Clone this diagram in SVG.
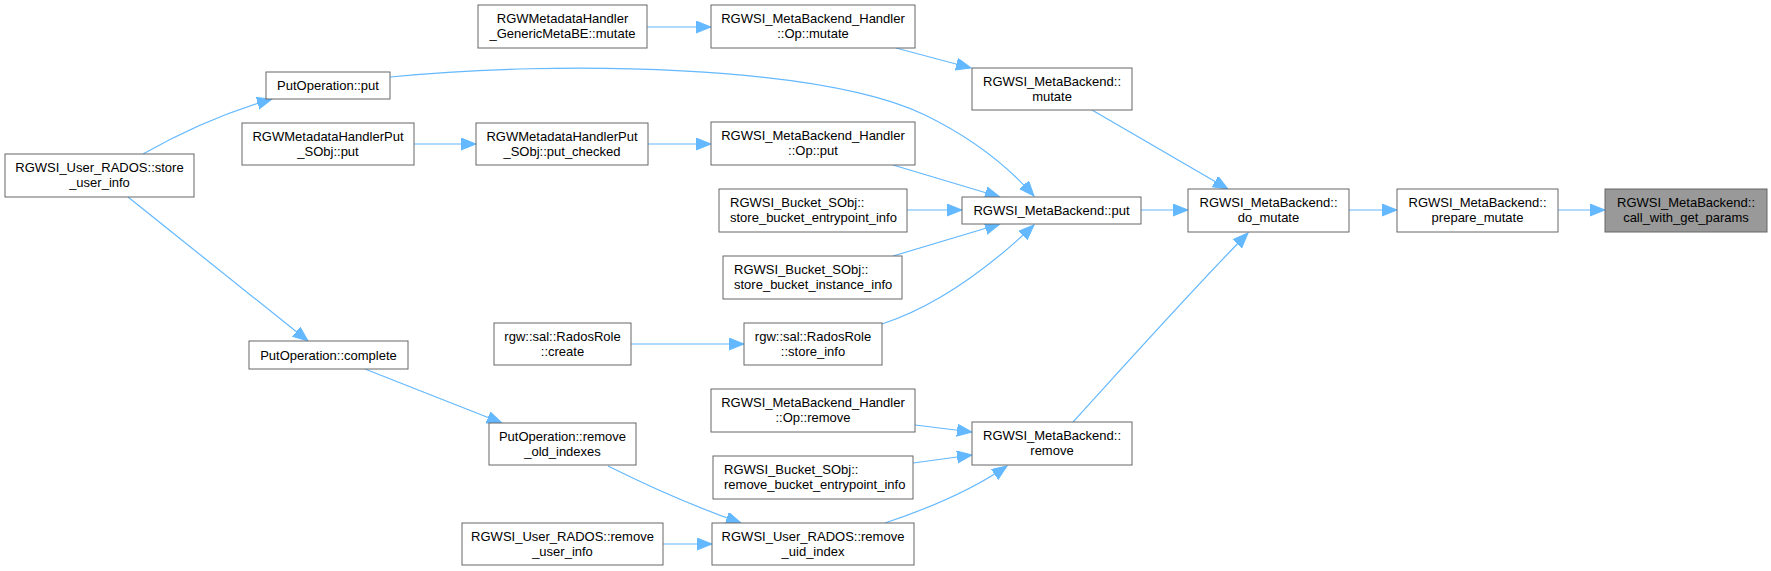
<svg xmlns="http://www.w3.org/2000/svg" width="1771" height="571" viewBox="0 0 1771 571">
<style>
.n rect{fill:#ffffff;stroke:#666666;stroke-width:1}
.n.hl rect{fill:#999999;stroke:#666666}
.n text{font-family:"Liberation Sans",Arial,sans-serif;font-size:13px;fill:#000000;text-anchor:middle}
.n text.l{text-anchor:start}
.e path{fill:none;stroke:#63b8ff;stroke-width:1.2;marker-end:url(#ah)}
</style>
<defs>
<marker id="ah" markerUnits="userSpaceOnUse" markerWidth="16" markerHeight="13" refX="15" refY="6" orient="auto">
<path d="M0,0 L15,6 L0,12 z" fill="#63b8ff" stroke="#63b8ff" stroke-width="1"/>
</marker>
</defs>
<rect width="1771" height="571" fill="#ffffff"/>
<g id="edges" class="e">
<path d="M647,27 L711,27"/>
<path d="M896,48 L971,68"/>
<path d="M1092,110 L1228,189"/>
<path d="M390,77 C560,60 820,65 925,115 C970,137 1005,163 1034,196"/>
<path d="M143,154 C180,133 220,114 272,99"/>
<path d="M414,144 L476,144"/>
<path d="M648,144 L711,144"/>
<path d="M893,165 L1000,197"/>
<path d="M907,210 L962,210"/>
<path d="M893,256 L1000,224"/>
<path d="M882,324 C940,305 995,262 1034,225"/>
<path d="M631,344 L744,344"/>
<path d="M1141,210 L1188,210"/>
<path d="M1349,210 L1397,210"/>
<path d="M1558,210 L1605,210"/>
<path d="M1073,422 C1125,365 1190,292 1248,233"/>
<path d="M128,197 L308,341"/>
<path d="M365,369 L502,423"/>
<path d="M915,425 L972,432"/>
<path d="M913,463 L972,455"/>
<path d="M885,523 C930,508 975,488 1007,466"/>
<path d="M608,466 C640,482 690,505 741,523"/>
<path d="M663,544 L712,544"/>
</g>
<g id="n0" class="n hl"><rect x="1605" y="189" width="162" height="43"/><text x="1686" y="206.5">RGWSI_MetaBackend::</text><text x="1686" y="222">call_with_get_params</text></g>
<g id="n1" class="n"><rect x="1397" y="189" width="161" height="43"/><text x="1477.5" y="206.5">RGWSI_MetaBackend::</text><text x="1477.5" y="222">prepare_mutate</text></g>
<g id="n2" class="n"><rect x="1188" y="189" width="161" height="43"/><text x="1268.5" y="206.5">RGWSI_MetaBackend::</text><text x="1268.5" y="222">do_mutate</text></g>
<g id="n3" class="n"><rect x="972" y="68" width="160" height="42"/><text x="1052" y="85.5">RGWSI_MetaBackend::</text><text x="1052" y="101">mutate</text></g>
<g id="n4" class="n"><rect x="711" y="5" width="204" height="43"/><text x="813" y="22.5">RGWSI_MetaBackend_Handler</text><text x="813" y="38">::Op::mutate</text></g>
<g id="n5" class="n"><rect x="478" y="5" width="169" height="43"/><text x="562.5" y="22.5">RGWMetadataHandler</text><text x="562.5" y="38">_GenericMetaBE::mutate</text></g>
<g id="n6" class="n"><rect x="962" y="197" width="179" height="27"/><text x="1051.5" y="215">RGWSI_MetaBackend::put</text></g>
<g id="n7" class="n"><rect x="266" y="72" width="124" height="27"/><text x="328" y="90">PutOperation::put</text></g>
<g id="n8" class="n"><rect x="5" y="154" width="189" height="43"/><text x="99.5" y="171.5">RGWSI_User_RADOS::store</text><text x="99.5" y="187">_user_info</text></g>
<g id="n9" class="n"><rect x="711" y="122" width="204" height="43"/><text x="813" y="139.5">RGWSI_MetaBackend_Handler</text><text x="813" y="155">::Op::put</text></g>
<g id="n10" class="n"><rect x="476" y="123" width="172" height="42"/><text x="562" y="140.5">RGWMetadataHandlerPut</text><text x="562" y="156">_SObj::put_checked</text></g>
<g id="n11" class="n"><rect x="242" y="123" width="172" height="42"/><text x="328" y="140.5">RGWMetadataHandlerPut</text><text x="328" y="156">_SObj::put</text></g>
<g id="n12" class="n"><rect x="719" y="189" width="188" height="43"/><text class="l" x="730" y="206.5">RGWSI_Bucket_SObj::</text><text class="l" x="730" y="222">store_bucket_entrypoint_info</text></g>
<g id="n13" class="n"><rect x="723" y="256" width="179" height="43"/><text class="l" x="734" y="273.5">RGWSI_Bucket_SObj::</text><text class="l" x="734" y="289">store_bucket_instance_info</text></g>
<g id="n14" class="n"><rect x="744" y="323" width="138" height="42"/><text x="813" y="340.5">rgw::sal::RadosRole</text><text x="813" y="356">::store_info</text></g>
<g id="n15" class="n"><rect x="494" y="323" width="137" height="42"/><text x="562.5" y="340.5">rgw::sal::RadosRole</text><text x="562.5" y="356">::create</text></g>
<g id="n16" class="n"><rect x="972" y="422" width="160" height="43"/><text x="1052" y="439.5">RGWSI_MetaBackend::</text><text x="1052" y="455">remove</text></g>
<g id="n17" class="n"><rect x="711" y="389" width="204" height="43"/><text x="813" y="406.5">RGWSI_MetaBackend_Handler</text><text x="813" y="422">::Op::remove</text></g>
<g id="n18" class="n"><rect x="713" y="456" width="200" height="43"/><text class="l" x="724" y="473.5">RGWSI_Bucket_SObj::</text><text class="l" x="724" y="489">remove_bucket_entrypoint_info</text></g>
<g id="n19" class="n"><rect x="712" y="523" width="202" height="42"/><text x="813" y="540.5">RGWSI_User_RADOS::remove</text><text x="813" y="556">_uid_index</text></g>
<g id="n20" class="n"><rect x="489" y="423" width="147" height="42"/><text x="562.5" y="440.5">PutOperation::remove</text><text x="562.5" y="456">_old_indexes</text></g>
<g id="n21" class="n"><rect x="249" y="341" width="159" height="28"/><text x="328.5" y="359.5">PutOperation::complete</text></g>
<g id="n22" class="n"><rect x="462" y="523" width="201" height="42"/><text x="562.5" y="540.5">RGWSI_User_RADOS::remove</text><text x="562.5" y="556">_user_info</text></g>
</svg>
